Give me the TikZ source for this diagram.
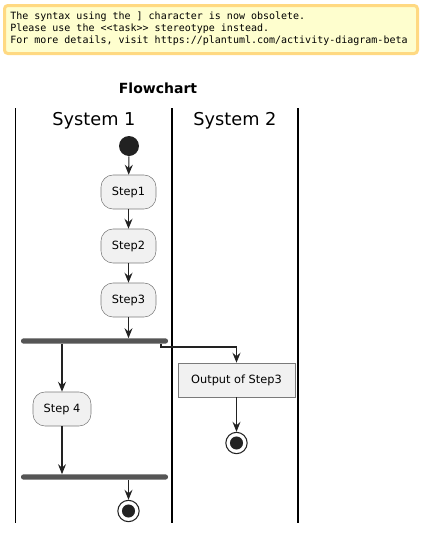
\documentclass[tikz,border=0pt]{standalone}
\usepackage{fontspec}
\setmainfont{DejaVu Sans}
\newfontfamily\notemono{DejaVu Sans Mono}
\usetikzlibrary{arrows.meta,positioning,calc}
\definecolor{notefill}{HTML}{FEFECE}
\definecolor{notedraw}{HTML}{FFD982}
\definecolor{actfill}{HTML}{F1F1F1}
\definecolor{actdraw}{HTML}{7A7A7A}
\definecolor{barfill}{HTML}{555555}
\definecolor{dotfill}{HTML}{222222}
\tikzset{
  stepbox/.style={draw=actdraw, fill=actfill, rounded corners=9pt, minimum height=25.5pt, minimum width=41.25pt, font=\fontsize{8.5pt}{10pt}\selectfont, inner sep=2pt},
  outbox/.style={draw=actdraw, fill=actfill, minimum height=25.5pt, minimum width=87.75pt, font=\fontsize{8.5pt}{10pt}\selectfont, inner sep=2pt},
  forkbar/.style={fill=barfill, rounded corners=1.8pt, minimum width=110.25pt, minimum height=3.9pt, inner sep=0pt},
  startdot/.style={circle, fill=dotfill, minimum size=15pt, inner sep=0pt},
  enddot/.style={circle, draw=dotfill, fill=white, line width=0.8pt, minimum size=16pt, inner sep=0pt,
    path picture={\fill[dotfill] (path picture bounding box.center) circle (4.9pt);}},
  thinarrow/.style={-{Stealth[length=7.5pt,width=6pt,inset=2.6pt]}, line width=0.8pt, draw=dotfill},
  laneline/.style={line width=1.1pt, draw=black},
  lanetitle/.style={font=\fontsize{13.3pt}{15pt}\selectfont},
}

\begin{document}
\begin{tikzpicture}[x=0.75pt, y=-0.75pt]
  \useasboundingbox (0,0) rectangle (422,533);

  % note
  \draw[draw=notedraw, fill=notefill, line width=2.25pt, rounded corners=2.5pt] (4.5,5.5) rectangle (417.5,53.5);
  \node[anchor=west, align=left, inner sep=0pt, font=\notemono\fontsize{7.5pt}{9pt}\selectfont] (note) at (10,28.5)
    {The syntax using the ] character is now obsolete.\\Please use the <{}<task>{}> stereotype instead.\\For more details, visit https://plantuml.com/activity-diagram-beta};

  \node[font=\bfseries\fontsize{10.5pt}{12pt}\selectfont] (title) at (158,88) {Flowchart};

  % lanes
  \draw[laneline] (15.7,108) -- (15.7,523);
  \draw[laneline] (172,108) -- (172,523);
  \draw[laneline] (298,108) -- (298,523);
  \node[lanetitle] (lane1) at (94,121) {System 1};
  \node[lanetitle] (lane2) at (235,121) {System 2};

  \node[startdot] (start) at (129,146) {};
  \node[stepbox] (step1) at (128.5,192) {Step1};
  \node[stepbox] (step2) at (128.5,246) {Step2};
  \node[stepbox] (step3) at (128.5,300) {Step3};
  \node[forkbar] (fork) at (94.5,341) {};
  \node[stepbox, minimum width=43.5pt] (step4) at (62,409) {Step 4};
  \node[outbox] (output) at (236.5,380) {Output of Step3};
  \node[enddot] (end2) at (236.5,443) {};
  \node[forkbar] (join) at (94.5,477) {};
  \node[enddot] (end1) at (128.5,511) {};
  \coordinate (forkout) at (161,347);

  \draw[thinarrow] (start) -- (step1);
  \draw[thinarrow] (step1) -- (step2);
  \draw[thinarrow] (step2) -- (step3);
  \draw[thinarrow] (step3) -- (step3 |- fork.north);
  \draw[thinarrow] (fork.south -| step4) -- (step4);
  \draw[thinarrow] (fork.south -| forkout) -- (forkout) -| (output.north);
  \draw[thinarrow] (output) -- (end2);
  \draw[thinarrow] (step4) -- (step4 |- join.north);
  \draw[thinarrow] (join.south -| end1) -- (end1);
\end{tikzpicture}
\end{document}
